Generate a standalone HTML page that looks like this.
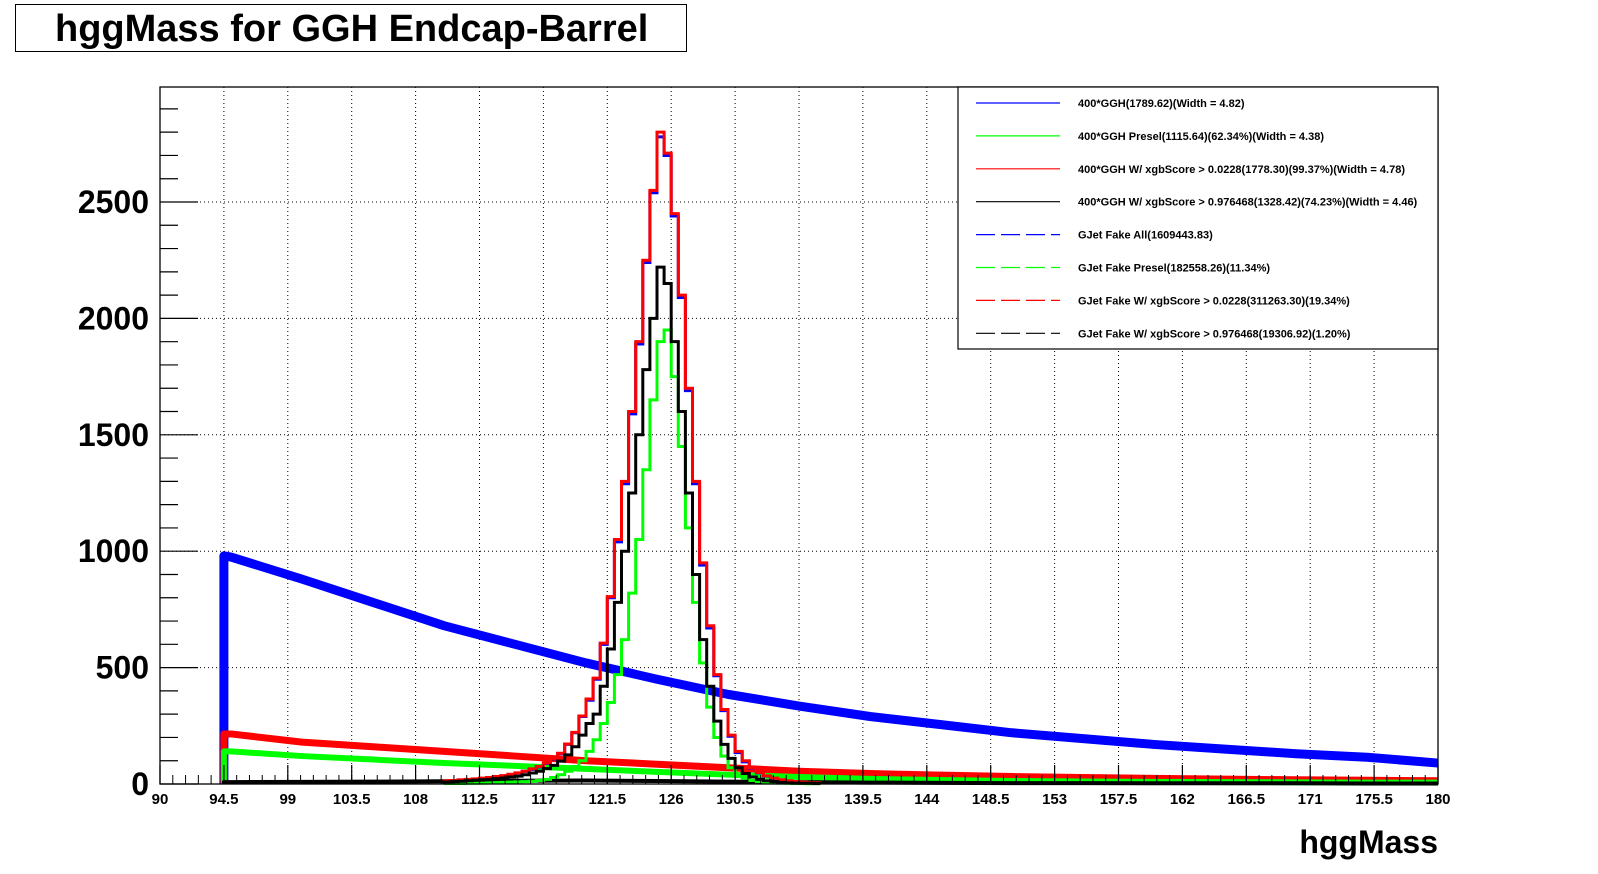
<!DOCTYPE html>
<html><head><meta charset="utf-8"><style>
body{margin:0;background:#fff;}
svg{display:block;font-family:"Liberation Sans",sans-serif;}
</style></head><body>
<svg id="c" width="1598" height="874" xmlns="http://www.w3.org/2000/svg">
<rect x="0" y="0" width="1598" height="874" fill="#fff"/>
<g>
<rect x="15.5" y="4.5" width="671" height="47" fill="#fff" stroke="#000" stroke-width="1"/>
<text x="55" y="41" font-size="38" font-weight="bold">hggMass for GGH Endcap-Barrel</text>
</g>
<g id="grid"></g>
<g id="series"></g>
<g id="axes"></g>
<g id="legend"></g>
<text x="1438" y="853" text-anchor="end" font-size="32" font-weight="bold">hggMass</text>
</svg>
<script>
// ---- data ----
const xTicks = [90,94.5,99,103.5,108,112.5,117,121.5,126,130.5,135,139.5,144,148.5,153,157.5,162,166.5,171,175.5,180];
const xTickLabels = ["90","94.5","99","103.5","108","112.5","117","121.5","126","130.5","135","139.5","144","148.5","153","157.5","162","166.5","171","175.5","180"];
const yTicks = [0,500,1000,1500,2000,2500];
const yTickLabels = ["0","500","1000","1500","2000","2500"];
// background knots (mass, value)
const bgMass = [94.5,95,100,105,110,115,120,125,130,135,140,145,150,155,160,165,170,175,180];
const bgAll = [980,975,880,780,680,600,520,450,385,335,290,255,220,195,170,150,130,115,90];
const bgXgbLoose = [215,215,180,160,140,120,100,85,70,55,45,38,32,28,24,21,18,16,14];
const bgPresel = [140,140,120,105,90,78,65,52,40,30,22,17,13,11,9,8,7,6,6];
const bgXgbTight = [8,8,9,10,12,14,15,13,10,8,6,5,4,4,3,3,3,2,2];
// signal: 0.5 GeV bins starting 110
const sigStart = 110, sigBin = 0.5;
const sigGGH =   [13,14,17,19,21,24,27,31,35,41,47, 54,63,73,88,108,130,170,220,290,360, 450,600,800,1040,1290,1590,1890,2240,2540,2780, 2700,2440,2090,1690,1290,940,670,465,315,205, 135,95,68,48,34,24,17,13,9,7,5,4];
const sigPresel = [2,2,2,3,3,4,5,6,7,8,9, 10,12,15,20,28,40,55,75,100,140, 190,260,350,470,620,820,1050,1350,1650,1900, 1950,1750,1450,1100,780,520,330,200,120,70, 40,25,15,10,7,5,4,3,2,2,1,1];
const sigXgbLoose = [14,15,18,20,22,25,28,32,36,42,48, 55,65,75,90,110,132,172,222,292,365, 455,605,805,1050,1300,1600,1900,2250,2550,2800, 2710,2450,2100,1700,1300,950,680,470,320,210, 140,100,70,50,35,25,18,14,10,8,6,5];
const sigXgbTight = [9,10,12,14,16,18,20,23,26,30,34, 40,47,55,66,80,98,125,160,210,260, 300,420,580,780,1000,1250,1500,1780,2000,2220, 2150,1900,1600,1250,900,620,420,270,170,110, 70,45,30,20,14,10,7,5,4,3,3,2];

// ---- axes ----
const L=160,R=1438,T=87,B=784;
const xs = m => L + (m-90)/90*(R-L);
const ys = v => B - v/500*116.4;
const NS="http://www.w3.org/2000/svg";
function mk(tag, parent, attrs){const e=document.createElementNS(NS,tag);for(const k in attrs)e.setAttribute(k,attrs[k]);parent.appendChild(e);return e;}
const grid=document.getElementById('grid'), axes=document.getElementById('axes'), series=document.getElementById('series'), legend=document.getElementById('legend');

xTicks.forEach((t,i)=>{
  if(i>0 && i<xTicks.length-1){
    const g=mk('line',grid,{x1:xs(t),x2:xs(t),y1:T,y2:B,stroke:'#000','stroke-width':1,'stroke-dasharray':'1,3'});
    
    
  }
  const tk=mk('line',axes,{x1:xs(t),x2:xs(t),y1:B,y2:B-19,stroke:'#000','stroke-width':1.2});
  
  
  const tx=mk('text',axes,{x:xs(t),y:804,'text-anchor':'middle','font-size':15,'font-weight':'bold'});
  tx.textContent=xTickLabels[i];
  
  
});
for(let m=90;m<180;m+=0.9){
  const tk=mk('line',axes,{x1:xs(m),x2:xs(m),y1:B,y2:B-9,stroke:'#000','stroke-width':1});
  
  
}
yTicks.forEach((t,i)=>{
  if(i>0){
    const g=mk('line',grid,{x1:L,x2:R,y1:ys(t),y2:ys(t),stroke:'#000','stroke-width':1,'stroke-dasharray':'1,3'});
    
    
  }
  const tx=mk('text',axes,{x:149,y:ys(t)+11,'text-anchor':'end','font-size':32,'font-weight':'bold'});
  tx.textContent=yTickLabels[i];
  
  
});
for(let v=0;v<=2900;v+=100){
  const len = v%500===0?38:18;
  const tk=mk('line',axes,{x1:L,x2:L+len,y1:ys(v),y2:ys(v),stroke:'#000','stroke-width':1.2});
  
  
}
const frame=mk('rect',axes,{x:L,y:T,width:R-L,height:B-T,fill:'none',stroke:'#000','stroke-width':1.3});



// ---- series ----
function bgLine(vals,color,w,name){
  let d='M'+xs(bgMass[0])+','+ys(0);
  bgMass.forEach((m,i)=>{d+=' L'+xs(m)+','+ys(vals[i]);});
  const p=mk('path',series,{d:d,fill:'none',stroke:color,'stroke-width':w,'stroke-linejoin':'round'});
  
  
}
function sigHist(vals,color,w,name){
  let d='M'+xs(sigStart)+','+ys(0);
  vals.forEach((v,i)=>{const a=sigStart+i*sigBin;d+=' L'+xs(a)+','+ys(v)+' L'+xs(a+sigBin)+','+ys(v);});
  d+=' L'+xs(sigStart+vals.length*sigBin)+','+ys(0);
  const p=mk('path',series,{d:d,fill:'none',stroke:color,'stroke-width':w});
  
  
}
bgLine(bgAll,'#0000ff',9,'gjet-fake-all-line');
bgLine(bgXgbLoose,'#ff0000',7,'gjet-fake-xgb-loose-line');
bgLine(bgPresel,'#00ff00',6,'gjet-fake-presel-line');
bgLine(bgXgbTight,'#000000',4,'gjet-fake-xgb-tight-line');
sigHist(sigGGH,'#0000ff',3,'ggh-signal-hist');
sigHist(sigPresel,'#00ff00',3,'ggh-presel-hist');
sigHist(sigXgbLoose,'#ff0000',3,'ggh-xgb-loose-hist');
sigHist(sigXgbTight,'#000000',3,'ggh-xgb-tight-hist');

// ---- legend ----
const legText=["400*GGH(1789.62)(Width = 4.82)","400*GGH Presel(1115.64)(62.34%)(Width = 4.38)","400*GGH W/ xgbScore > 0.0228(1778.30)(99.37%)(Width = 4.78)","400*GGH W/ xgbScore > 0.976468(1328.42)(74.23%)(Width = 4.46)","GJet Fake All(1609443.83)","GJet Fake Presel(182558.26)(11.34%)","GJet Fake W/ xgbScore > 0.0228(311263.30)(19.34%)","GJet Fake W/ xgbScore > 0.976468(19306.92)(1.20%)"];
const legColor=['#0000ff','#00ff00','#ff0000','#000000','#0000ff','#00ff00','#ff0000','#000000'];
const lb=mk('rect',legend,{x:958,y:87,width:480,height:262,fill:'#fff',stroke:'#000','stroke-width':1.2});


legText.forEach((t,i)=>{
  const y=103+i*32.9;
  const ln=mk('line',legend,{x1:976,x2:1060,y1:y,y2:y,stroke:legColor[i],'stroke-width':1.2,'stroke-dasharray':i>=4?'19,6':'none'});
  
  
  const tx=mk('text',legend,{x:1078,y:y+4,'font-size':11,'font-weight':'bold'});
  tx.textContent=t;
  
  
});
</script>
</body></html>
